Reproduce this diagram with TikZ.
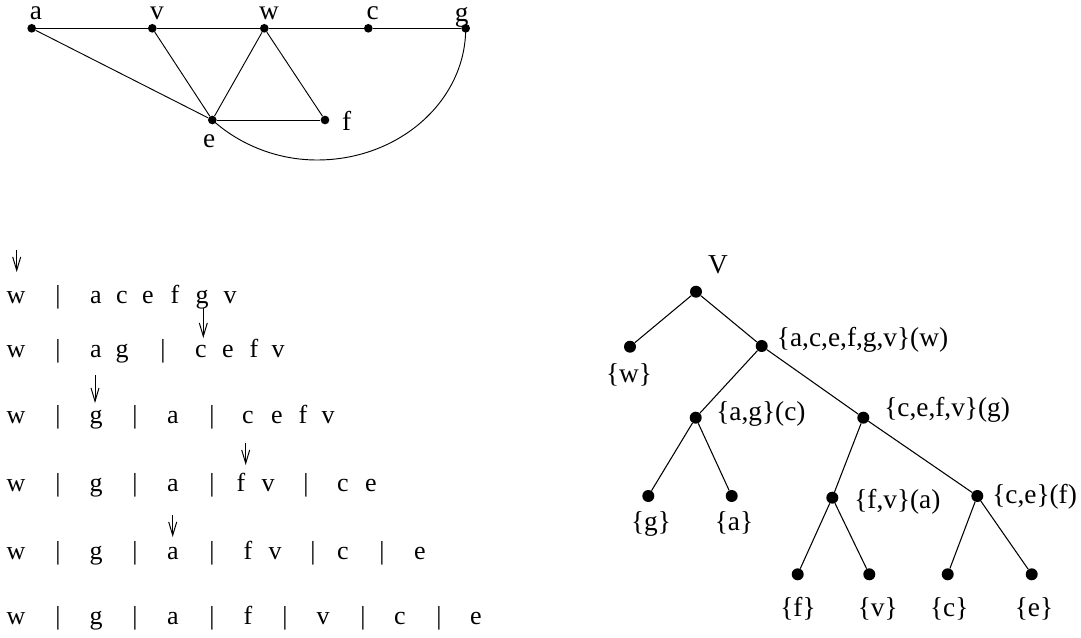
\documentclass[tikz,border=0pt]{standalone}
\usepackage{fontspec}
\setmainfont{Liberation Serif}
\usetikzlibrary{arrows.meta}
\begin{document}
\begin{tikzpicture}[x=0.75pt,y=-0.75pt,
  gdot/.style={circle,fill=black,inner sep=0pt,minimum size=6.5pt},
  tdot/.style={circle,fill=black,inner sep=0pt,minimum size=9pt},
  glab/.style={inner sep=0pt,anchor=base,font=\fontsize{20.5}{24}\selectfont},
  tlab/.style={inner sep=0pt,anchor=base,font=\fontsize{20.5}{24}\selectfont},
  tlabw/.style={tlab,anchor=base west},
  ltok/.style={inner sep=0pt,anchor=base,font=\fontsize{19.5}{22}\selectfont},
  gedge/.style={line width=0.7pt},
  tedge/.style={line width=0.8pt},
  ptr/.style={line width=0.75pt,-{Straight Barb[length=10pt,width=6pt]}}
]
\useasboundingbox (0,0) rectangle (1081,638);

% ---------- top graph ----------
\node[gdot] (a) at (31.7,28.3) {};
\node[gdot] (v) at (152.3,28.3) {};
\node[gdot] (w) at (264.3,28.3) {};
\node[gdot] (c) at (368.3,28.3) {};
\node[gdot] (g) at (465.7,28.3) {};
\node[gdot] (e) at (212.3,120) {};
\node[gdot] (f) at (325,120) {};

\node[glab] (lba) at (36,19.5) {a};
\node[glab] (lbv) at (157,19.5) {v};
\node[glab] (lbw) at (269,19.5) {w};
\node[glab] (lbc) at (372.7,19.5) {c};
\node[glab] (lbg) at (461.7,22) {g};
\node[glab] (lbe) at (209.3,148) {e};
\node[glab] (lbf) at (346.7,131) {f};

\draw[gedge] (a) -- (v) -- (w) -- (c) -- (g);
\draw[gedge] (a) -- (e);
\draw[gedge] (v) -- (e);
\draw[gedge] (w) -- (e);
\draw[gedge] (w) -- (f);
\draw[gedge] (e) -- (f);
\coordinate (bot) at (317,160);
\coordinate (k1) at (240,145);
\coordinate (k2) at (277.6,160);
\coordinate (k3) at (399.1,160);
\coordinate (k4) at (465.7,101);
\draw[gedge] (e.center) .. controls (k1) and (k2) .. (bot)
  .. controls (k3) and (k4) .. (g.center);

% ---------- left list ----------
\foreach \r/\yb/\lst in {
  1/303.5/{16/w,58/|,96/a,122/c,148/e,175/f,202/g,230/v},
  2/357.5/{16/w,58/|,96/a,122/g,163/|,201/c,228/e,254/f,278/v},
  3/423.5/{16/w,58/|,96/g,135/|,173/a,212/|,248/c,277/e,303/f,328/v},
  4/491.5/{16/w,58/|,96/g,135/|,173/a,212/|,241/f,268/v,306/|,343/c,371/e},
  5/559.5/{16/w,58/|,96/g,135/|,173/a,212/|,248/f,275/v,313/|,343/c,382/|,420/e},
  6/624.5/{16/w,58/|,96/g,135/|,173/a,212/|,248/f,285/|,323/v,363/|,400/c,439/|,476/e}}{
  \foreach \x/\t [count=\i] in \lst {
    \node[ltok] (r\r t\i) at (\x,\yb) {\t};
  }
}

\coordinate (p1s) at (16.7,250);  \coordinate (p1e) at (16.7,272);
\coordinate (p2s) at (203.3,308); \coordinate (p2e) at (203.3,338);
\coordinate (p3s) at (95,375);    \coordinate (p3e) at (95,403);
\coordinate (p4s) at (245.7,443); \coordinate (p4e) at (245.7,465);
\coordinate (p5s) at (172.7,515); \coordinate (p5e) at (172.7,537);
\draw[ptr] (p1s) -- (p1e);
\draw[ptr] (p2s) -- (p2e);
\draw[ptr] (p3s) -- (p3e);
\draw[ptr] (p4s) -- (p4e);
\draw[ptr] (p5s) -- (p5e);

% ---------- tree ----------
\node[tdot] (t0) at (696,291.7) {};
\node[tdot] (tw) at (630,346.7) {};
\node[tdot] (t1) at (761.7,346) {};
\node[tdot] (t2) at (695.7,417.7) {};
\node[tdot] (t3) at (863.3,417.7) {};
\node[tdot] (tg) at (648.3,496) {};
\node[tdot] (ta) at (731.7,496) {};
\node[tdot] (t4) at (832.3,497.7) {};
\node[tdot] (t5) at (977.3,496) {};
\node[tdot] (tf) at (797.7,574.3) {};
\node[tdot] (tv) at (869.3,574.3) {};
\node[tdot] (tc) at (947.7,574.3) {};
\node[tdot] (te) at (1031.7,574.3) {};

\draw[tedge] (t0) -- (tw);
\draw[tedge] (t0) -- (t1);
\draw[tedge] (t1) -- (t2);
\draw[tedge] (t1) -- (t3);
\draw[tedge] (t2) -- (tg);
\draw[tedge] (t2) -- (ta);
\draw[tedge] (t3) -- (t4);
\draw[tedge] (t3) -- (t5);
\draw[tedge] (t4) -- (tf);
\draw[tedge] (t4) -- (tv);
\draw[tedge] (t5) -- (tc);
\draw[tedge] (t5) -- (te);

\node[tlab] (lV) at (718,273) {V};
\node[tlab] (lw) at (629,382) {\{w\}};
\node[tlabw] (l1) at (776.7,346.7) {\{a,c,e,f,g,v\}(w)};
\node[tlabw] (l2) at (716,420) {\{a,g\}(c)};
\node[tlabw] (l3) at (884,416.7) {\{c,e,f,v\}(g)};
\node[tlab] (lg) at (651,530) {\{g\}};
\node[tlab] (la) at (734,530) {\{a\}};
\node[tlabw] (l4) at (854,508.3) {\{f,v\}(a)};
\node[tlabw] (l5) at (992,503.3) {\{c,e\}(f)};
\node[tlab] (lf) at (798,616.7) {\{f\}};
\node[tlab] (lv) at (877.7,616.7) {\{v\}};
\node[tlab] (lc) at (949.3,616.7) {\{c\}};
\node[tlab] (le) at (1034,616.7) {\{e\}};
\end{tikzpicture}
\end{document}
